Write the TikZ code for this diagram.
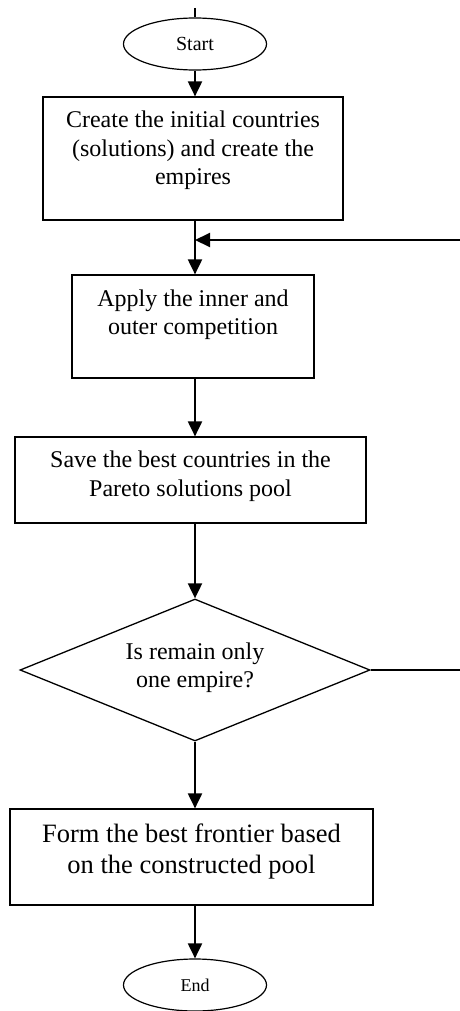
\documentclass[tikz,border=0pt]{standalone}
\usepackage{fontspec}
\setmainfont{Liberation Serif}
\usetikzlibrary{shapes.geometric,arrows.meta}
\begin{document}
\begin{tikzpicture}[x=1pt,y=-1pt,
  boxstyle/.style={draw,line width=1.2pt,rectangle,inner sep=0pt,align=center,
    font=\fontsize{24}{28.5}\selectfont},
  termstyle/.style={draw,line width=1.2pt,ellipse,inner sep=0pt,
    minimum width=143pt,minimum height=52pt},
  decstyle/.style={draw,line width=1.3pt,diamond,aspect=2.46,inner sep=0pt,
    minimum width=350pt,minimum height=142pt,align=center,
    font=\fontsize{24}{28}\selectfont},
  flow/.style={line width=2pt,-{Triangle[length=15pt,width=14pt]}},
  plain/.style={line width=2pt},
  thinline/.style={line width=1.3pt}]
\useasboundingbox (0,0) rectangle (459,1011);

\node[termstyle,font=\fontsize{20}{24}\selectfont] (s) at (195,44) {Start};
\node[boxstyle,minimum width=300pt,minimum height=123pt] (b1) at (193,158.5)
  {Create the initial countries\\(solutions) and create the\\empires\rule[-21pt]{0pt}{1pt}};
\node[boxstyle,minimum width=242pt,minimum height=103pt] (b2) at (193,326.5)
  {Apply the inner and\\outer competition\rule[-29pt]{0pt}{1pt}};
\node[boxstyle,minimum width=351pt,minimum height=86pt] (b3) at (190.5,480)
  {Save the best countries in the\\Pareto solutions pool\rule[-13pt]{0pt}{1pt}};
\node[decstyle] (d) at (195,670)
  {Is remain only\\one empire?\rule[-9pt]{0pt}{1pt}};
\node[boxstyle,minimum width=363pt,minimum height=96pt,
  font=\fontsize{26.5}{31}\selectfont] (b4) at (191.5,857)
  {Form the best frontier based\\on the constructed pool\rule[-17pt]{0pt}{1pt}};
\node[termstyle,font=\fontsize{18}{22}\selectfont] (e) at (195,985) {End};

\coordinate (top) at (195,8);
\coordinate (m) at (195,240);
\coordinate (r) at (470,240);

\draw[plain] (top) -- (s.north);
\draw[flow] (s.south) -- (s.south |- b1.north);
\draw[flow] (s.south |- b1.south) -- (s.south |- b2.north);
\draw[flow] (s.south |- b2.south) -- (s.south |- b3.north);
\draw[flow] (s.south |- b3.south) -- (d.north);
\draw[flow] (d.south) -- (d.south |- b4.north);
\draw[flow] (d.south |- b4.south) -- (e.north);
\draw[thinline] (d.east) -- (d.east -| r) -- (r);
\draw[flow] (r) -- (m);
\end{tikzpicture}
\end{document}
